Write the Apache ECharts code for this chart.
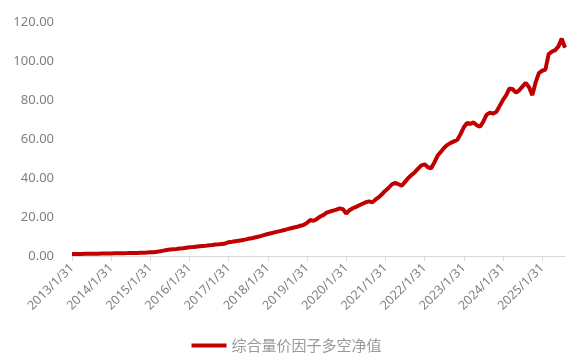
<!DOCTYPE html>
<html><head><meta charset="utf-8">
<script src="https://cdn.jsdelivr.net/npm/echarts@6/dist/echarts.min.js"></script>
<style>html,body{margin:0;padding:0;background:#fff}#c{width:573px;height:360px}</style>
</head><body><div id="c"></div>
<script>
const seriesName = '综合量价因子多空净值';
const v2013 = [1.00,1.02,1.05,1.07,1.10,1.12,1.15,1.18,1.20,1.23,1.25,1.28];
const v2014 = [1.32,1.35,1.38,1.42,1.45,1.48,1.52,1.56,1.60,1.65,1.70,1.78];
const v2015 = [1.88,1.98,2.15,2.40,2.75,3.10,3.30,3.45,3.60,3.80,4.00,4.25];
const v2016 = [4.45,4.60,4.80,5.00,5.15,5.30,5.50,5.65,5.85,6.00,6.20,6.40];
const v2017 = [7.1,7.3,7.6,7.8,8.1,8.4,8.8,9.1,9.5,9.9,10.3,10.8];
const v2018 = [11.3,11.7,12.1,12.5,12.9,13.3,13.8,14.2,14.6,15.0,15.5,16.0];
const v2019 = [17.0,18.5,18.0,19.0,20.2,21.0,22.2,22.8,23.3,23.8,24.4,24.0];
const v2020 = [21.8,23.5,24.5,25.2,26.0,26.8,27.6,28.0,27.5,29.0,30.2,31.8];
const v2021 = [33.5,35.0,36.8,37.5,36.8,36.0,38.0,40.0,41.5,43.0,44.8,46.5];
const v2022 = [47.0,45.5,45.0,48.0,51.5,53.5,55.5,57.0,58.0,58.8,59.5,62.5];
const v2023 = [66.0,68.2,67.8,68.5,67.0,66.3,69.0,72.5,73.5,73.0,74.0,77.0];
const v2024 = [80.0,82.5,86.0,85.5,83.8,85.0,87.0,88.8,86.5,82.5,89.0,93.8];
const v2025 = [95.0,95.6,103.5,104.8,105.6,107.5,111.5,106.8];
const values = [].concat(v2013,v2014,v2015,v2016,v2017,v2018,v2019,v2020,v2021,v2022,v2023,v2024,v2025);
// month-end category labels starting 2013/1/31
const categories = values.map((_, i) => {
  const y = 2013 + Math.floor(i / 12), m = i % 12 + 1;
  const d = new Date(y, m, 0).getDate();
  return y + '/' + m + '/' + d;
});
const yTicks = {min: 0, max: 120, interval: 20};

const chart = echarts.init(document.getElementById('c'), null, {renderer: 'canvas'});
chart.setOption({
  animation: false,
  grid: {left: 72, right: 8, top: 22, bottom: 104, containLabel: false},
  legend: {
    top: 333, left: 'center',
    icon: 'rect', itemWidth: 35, itemHeight: 4, itemGap: 6,
    textStyle: {color: '#999999', fontSize: 15, fontFamily: 'Noto Sans CJK SC'},
    data: [seriesName]
  },
  xAxis: {
    type: 'category', data: categories, boundaryGap: false,
    axisLine: {lineStyle: {color: '#d9d9d9', width: 1}},
    axisTick: {show: true, interval: 11, length: 5, lineStyle: {color: '#d9d9d9'}},
    axisLabel: {interval: 11, rotate: 45, color: '#7f7f7f', fontSize: 12.5, margin: 10, fontFamily: 'Noto Sans'},
    splitLine: {show: false}
  },
  yAxis: {
    type: 'value', min: yTicks.min, max: yTicks.max, interval: yTicks.interval,
    axisLine: {show: false}, axisTick: {show: false}, splitLine: {show: false},
    axisLabel: {color: '#7f7f7f', fontSize: 13, margin: 18, fontFamily: 'Noto Sans',
      formatter: v => v.toFixed(2)}
  },
  series: [{
    name: seriesName, type: 'line', data: values, showSymbol: false, symbol: 'none',
    lineStyle: {color: '#c00000', width: 4}, itemStyle: {color: '#c00000'}
  }]
});
</script></body></html>
